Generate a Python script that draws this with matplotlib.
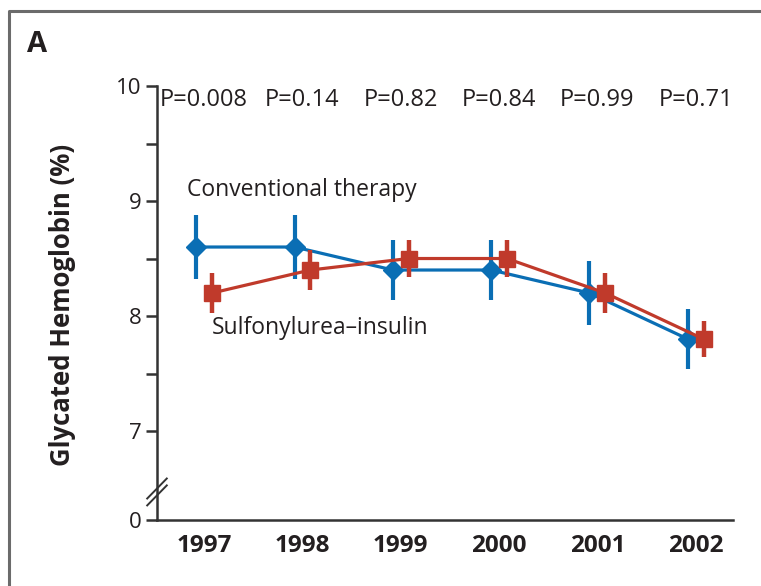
import numpy as np
import matplotlib.pyplot as plt
from matplotlib.lines import Line2D
import matplotlib.transforms as mtransforms

plt.rcParams['font.family'] = ['Open Sans', 'DejaVu Sans']

# data
years = [1997, 1998, 1999, 2000, 2001, 2002]
conv_mean = [8.6, 8.6, 8.4, 8.4, 8.2, 7.8]
conv_err = [0.28, 0.28, 0.26, 0.26, 0.28, 0.26]
sulf_mean = [8.2, 8.4, 8.5, 8.5, 8.2, 7.8]
sulf_err = [0.17, 0.17, 0.16, 0.16, 0.17, 0.16]
p_labels = ['P=0.008', 'P=0.14', 'P=0.82', 'P=0.84', 'P=0.99', 'P=0.71']

BLUE = '#0a6eb4'
RED = '#c03a2b'
TXT = '#231f20'
AX = '#333333'

# broken axis: the "0" sits at this position just below 7
ZERO_POS = 6.226
OFFSET = 0.08

fig = plt.figure(figsize=(7.61, 5.86), dpi=100)
ax = fig.add_axes([0.2063, 0.1126, 0.7569, 0.7406])

x = np.array(years, dtype=float)

ax.errorbar(x - OFFSET, conv_mean, yerr=conv_err, color=BLUE, lw=2.3,
            elinewidth=3.0, capsize=0, marker='D', markersize=10,
            zorder=3)
ax.errorbar(x + OFFSET, sulf_mean, yerr=sulf_err, color=RED, lw=2.3,
            elinewidth=3.2, capsize=0, marker='s', markersize=12,
            zorder=4)

for yr, p in zip(years, p_labels):
    ax.text(yr, 9.88, p, ha='center', va='center', fontsize=17, color=TXT)

ax.text(1996.83, 9.1, 'Conventional therapy', ha='left', va='center',
        fontsize=16.5, color=TXT)
ax.text(1997.08, 7.9, 'Sulfonylurea\u2013insulin', ha='left', va='center',
        fontsize=16.5, color=TXT)

ax.set_xlim(1996.52, 2002.38)
ax.set_ylim(ZERO_POS, 10)

ax.set_xticks(years)
ax.set_xticklabels([str(y) for y in years], fontsize=17.5, fontweight='bold',
                   color=TXT)
ax.tick_params(axis='x', length=0, pad=10)

ax.set_yticks([ZERO_POS, 7, 8, 9, 10])
ax.set_yticklabels(['0', '7', '8', '9', '10'], fontsize=16, color=TXT)
ax.set_yticks([7.5, 8.5, 9.5], minor=True)
ax.tick_params(axis='y', which='both', length=8, width=1.8, color=AX, pad=3)

for side in ['top', 'right']:
    ax.spines[side].set_visible(False)
for side in ['left', 'bottom']:
    ax.spines[side].set_linewidth(1.8)
    ax.spines[side].set_color(AX)

fig.text(63 / 761, 1 - 305 / 586, 'Glycated Hemoglobin (%)', rotation=90,
         ha='center', va='center', fontsize=18.5, fontweight='bold', color=TXT)

# axis break marks
trans = mtransforms.blended_transform_factory(ax.transAxes, ax.transData)
for yc in [6.50, 6.44]:
    ax.plot([-0.017, 0.017], [yc - 0.087, yc + 0.087], color=AX, lw=1.4,
            transform=trans, clip_on=False, zorder=5)

# panel letter and frame
fig.text(27 / 761, 1 - 45 / 586, 'A', fontsize=21, fontweight='bold',
         ha='left', va='center', color=TXT)
fig.add_artist(Line2D([8.5 / 761, 8.5 / 761, 1.0], [0.0, 1 - 10.5 / 586, 1 - 10.5 / 586],
                      transform=fig.transFigure, color='#6b6b6b', lw=2.2))

fig.savefig('out.png', dpi=100)
